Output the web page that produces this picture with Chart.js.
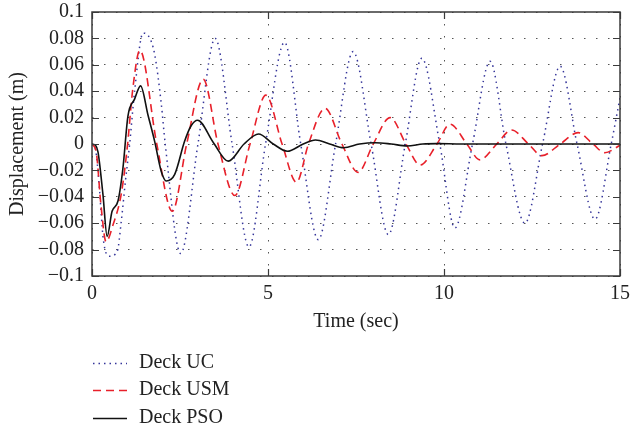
<!DOCTYPE html>
<html>
<head>
<meta charset="utf-8">
<script src="https://cdn.jsdelivr.net/npm/chart.js@4"></script>
<style>
  html, body { margin: 0; padding: 0; background: #fff; }
  #wrap { width: 631px; height: 429px; }
</style>
</head>
<body>
<div id="wrap"><canvas id="chart" width="631" height="429"></canvas></div>
<script>
// values (time in sec, displacement in m)
const ucTime = [0, 0.1, 0.2, 0.32, 0.5, 0.72, 0.83, 0.95, 1.07, 1.21, 1.45, 1.6, 1.78, 1.97, 2.08, 2.52, 3.01, 3.5, 3.98, 4.46, 4.93, 5.47, 5.93, 6.43, 6.92, 7.42, 7.93, 8.42, 8.9, 9.37, 9.88, 10.31, 10.81, 11.31, 11.76, 12.3, 12.8, 13.3, 13.78, 14.29, 14.75, 15];
const ucDisp = [0, -0.004, -0.03, -0.072, -0.085, -0.081, -0.059, -0.028, 0, 0.04, 0.084, 0.082, 0.068, 0.03, 0, -0.083, 0, 0.080, 0, -0.078, 0, 0.077, 0, -0.0725, 0, 0.070, 0, -0.0687, 0, 0.065, 0, -0.0636, 0, 0.0626, 0, -0.060, 0, 0.0589, 0, -0.057, 0, 0.035];

const usmTime = [0, 0.12, 0.25, 0.40, 0.6, 0.83, 1.0, 1.16, 1.36, 1.84, 2.28, 2.69, 3.16, 3.58, 4.06, 4.49, 4.94, 5.4, 5.81, 6.15, 6.62, 7.1, 7.56, 7.99, 8.47, 8.92, 9.32, 9.8, 10.17, 10.65, 11.02, 11.5, 11.92, 12.4, 12.78, 13.3, 13.81, 14.23, 14.57, 15];
const usmDisp = [0, -0.006, -0.045, -0.074, -0.061, -0.038, -0.003, 0.042, 0.071, 0, -0.051, 0, 0.049, 0, -0.039, 0, 0.037, 0, -0.029, 0, 0.027, 0, -0.0215, 0, 0.020, 0, -0.016, 0, 0.015, 0, -0.012, 0, 0.0106, 0, -0.0088, 0, 0.0086, 0, -0.0066, -0.001];

const psoTime = [0, 0.1, 0.17, 0.31, 0.43, 0.57, 0.74, 0.88, 1.02, 1.21, 1.38, 1.59, 1.78, 1.97, 2.11, 2.35, 2.63, 2.82, 3.0, 3.45, 3.87, 4.32, 4.73, 5.15, 5.55, 6.0, 6.35, 6.75, 7.15, 7.6, 8.05, 8.5, 8.95, 9.4, 9.8, 10.5, 11.5, 12.5, 13.5, 15];
const psoDisp = [0, -0.001, -0.006, -0.038, -0.070, -0.051, -0.043, -0.018, 0.021, 0.034, 0.044, 0.022, 0.002, -0.021, -0.028, -0.023, 0.002, 0.014, 0.018, 0.001, -0.013, 0, 0.0076, 0, -0.0055, 0, 0.003, 0, -0.0028, 0, 0.001, 0, -0.0015, 0, 0.0003, 0, 0, 0, 0, 0];

const seriesNames = ['Deck UC', 'Deck USM', 'Deck PSO'];
const xTicks = [0, 5, 10, 15];
const yMin = -0.1, yMax = 0.1, yStep = 0.02;

const FONT = '"Liberation Serif", "Times New Roman", serif';
const FSIZE = 20;

function toPoints(ts, vs) {
    return ts.map((t, i) => ({ x: t, y: vs[i] }));
}

// frame, inward tick marks and the legend below the plot
const framePlugin = {
    id: 'frame',
    afterDraw(chart) {
        const { ctx, chartArea: a, scales } = chart;
        const tl = 7;
        ctx.save();
        ctx.strokeStyle = '#3a3a3a';
        ctx.lineWidth = 1.2;
        ctx.beginPath();
        scales.y.ticks.forEach(t => {
            const py = Math.round(scales.y.getPixelForValue(t.value)) + 0.5;
            ctx.moveTo(a.left, py); ctx.lineTo(a.left + tl, py);
            ctx.moveTo(a.right, py); ctx.lineTo(a.right - tl, py);
        });
        scales.x.ticks.forEach(t => {
            const px = Math.round(scales.x.getPixelForValue(t.value)) + 0.5;
            ctx.moveTo(px, a.bottom); ctx.lineTo(px, a.bottom - tl);
            ctx.moveTo(px, a.top); ctx.lineTo(px, a.top + tl);
        });
        ctx.stroke();
        ctx.lineWidth = 1.5;
        ctx.strokeRect(a.left, a.top, a.right - a.left, a.bottom - a.top);

        // legend
        const lx = 93, lw = 34, tx = 139;
        const rows = [363, 390, 418];
        chart.data.datasets.forEach((ds, i) => {
            const y = rows[i];
            ctx.beginPath();
            ctx.strokeStyle = ds.borderColor;
            ctx.lineWidth = ds.borderWidth;
            ctx.setLineDash(ds.borderDash || []);
            ctx.moveTo(lx, y + 0.5); ctx.lineTo(lx + lw, y + 0.5);
            ctx.stroke();
            ctx.setLineDash([]);
            ctx.fillStyle = '#222';
            ctx.font = FSIZE + 'px ' + FONT;
            ctx.textBaseline = 'middle';
            ctx.textAlign = 'left';
            ctx.fillText(ds.label, tx, y);
        });
        ctx.restore();
    }
};

new Chart(document.getElementById('chart'), {
    type: 'line',
    data: {
        datasets: [
            {
                label: seriesNames[0],
                data: toPoints(ucTime, ucDisp),
                borderColor: '#35359a',
                borderWidth: 1.5,
                borderDash: [1.5, 4],
                order: 2
            },
            {
                label: seriesNames[1],
                data: toPoints(usmTime, usmDisp),
                borderColor: '#e8202a',
                borderWidth: 1.6,
                borderDash: [8, 5],
                order: 1
            },
            {
                label: seriesNames[2],
                data: toPoints(psoTime, psoDisp),
                borderColor: '#111111',
                borderWidth: 1.6,
                order: 0
            }
        ]
    },
    options: {
        responsive: false,
        animation: false,
        events: [],
        layout: { padding: { left: 0, top: 12, right: 11, bottom: 95 } },
        elements: {
            point: { radius: 0 },
            line: { cubicInterpolationMode: 'monotone', fill: false }
        },
        plugins: { legend: { display: false }, tooltip: { enabled: false } },
        scales: {
            x: {
                type: 'linear',
                min: 0,
                max: 15,
                afterBuildTicks: s => { s.ticks = xTicks.map(v => ({ value: v })); },
                afterFit: s => { s.height = 58; s.paddingLeft = 0; s.paddingRight = 0; },
                ticks: {
                    color: '#222',
                    font: { family: FONT, size: FSIZE },
                    padding: 6,
                    maxRotation: 0,
                    autoSkip: false
                },
                grid: { color: '#555', lineWidth: 1, drawTicks: false },
                border: { display: false, dash: [1.5, 10.5] },
                title: {
                    display: true,
                    text: 'Time (sec)',
                    color: '#222',
                    font: { family: FONT, size: FSIZE },
                    padding: 0
                }
            },
            y: {
                min: yMin,
                max: yMax,
                afterFit: s => { s.width = 92; s.paddingTop = 0; s.paddingBottom = 0; },
                ticks: {
                    stepSize: yStep,
                    autoSkip: false,
                    color: '#222',
                    font: { family: FONT, size: FSIZE },
                    padding: 8,
                    callback: v => {
                        const r = Math.round(v * 100) / 100;
                        if (r === 0) return '0';
                        return String(r).replace('-', '\u2212');
                    }
                },
                grid: { color: '#555', lineWidth: 1, drawTicks: false },
                border: { display: false, dash: [1.5, 10.5] },
                title: {
                    display: true,
                    text: 'Displacement (m)',
                    color: '#222',
                    font: { family: FONT, size: FSIZE },
                    padding: { top: 6, bottom: 0 }
                }
            }
        }
    },
    plugins: [framePlugin]
});
</script>
</body>
</html>
